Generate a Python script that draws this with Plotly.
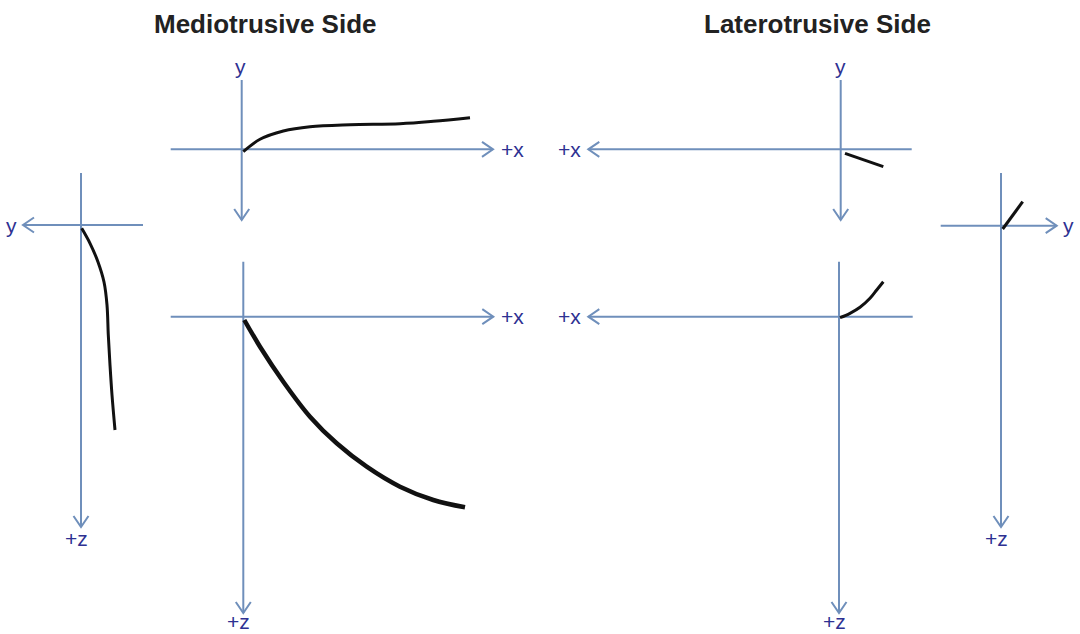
import plotly.graph_objects as go

# ---------------- data (page coordinates, px; y grows downward) ----------------
titles = ["Mediotrusive Side", "Laterotrusive Side"]
title_x = [265, 817]

# each axis: start point, arrow tip point, label text
axes_segments = [
    # top-left panel
    ((241.7, 80), (241.7, 220), None),
    ((170.7, 149.3), (493, 149.3), "+x"),
    # left side panel
    ((81, 173), (81, 527), "+z"),
    ((143, 225), (23, 225), "y"),
    # top-right panel
    ((840.7, 80), (840.7, 220), None),
    ((911.7, 149.3), (588.3, 149.3), "+x"),
    # right side panel
    ((1001, 173), (1001, 527), "+z"),
    ((940.7, 225.7), (1056.7, 225.7), "y"),
    # bottom-left panel
    ((243.3, 261.7), (243.3, 613), "+z"),
    ((170.7, 316.7), (493.3, 316.7), "+x"),
    # bottom-right panel
    ((839, 261.7), (839, 613), "+z"),
    ((912.7, 316.7), (588.3, 316.7), "+x"),
]
top_y_labels = [(240.7, 66), (840.5, 66)]

curve_tl_x = [243.3, 260, 283.3, 310, 350, 400, 433.3, 470]
curve_tl_y = [151.7, 139.3, 131, 126.7, 124.7, 123.7, 121.3, 117.7]
curve_ls_x = [81.7, 90, 98, 104, 107, 108.3, 110, 112, 115]
curve_ls_y = [228.3, 243.3, 262, 282, 305, 335, 365, 395, 430]
curve_tr_x = [845, 883.3]
curve_tr_y = [153.3, 166.7]
curve_rs_x = [1002.7, 1022.7]
curve_rs_y = [229, 201.7]
curve_bl_x = [244.3, 260, 283.3, 310, 336.7, 366.7, 400, 433.3, 465]
curve_bl_y = [320, 346.7, 381.7, 416.7, 443.3, 466.7, 486.7, 500, 507.3]
curve_br_x = [840, 850, 860, 870, 876.7, 883.3]
curve_br_y = [317.7, 313.3, 307.3, 298.3, 290, 281.7]

# ---------------- styles ----------------
AXIS_COLOR = "#6f8fbb"
LABEL_COLOR = "#2e3192"
LABEL_FONT = dict(family="Liberation Sans, Arial, sans-serif", size=21, color=LABEL_COLOR)
PAGE_H = 634

fig = go.Figure()

def add_line(xs, ys, color, width, shape="linear"):
    fig.add_trace(go.Scatter(x=xs, y=ys, mode="lines", line=dict(color=color, width=width, shape=shape),
                             hoverinfo="skip", showlegend=False))

for (x0, y0), (x1, y1), lab in axes_segments:
    add_line([x0, x1], [y0, y1], AXIS_COLOR, 2)
    # chevron arrow head
    dx, dy = x1 - x0, y1 - y0
    L = (dx * dx + dy * dy) ** 0.5
    ux, uy = dx / L, dy / L
    px, py = -uy, ux
    back, half = 11, 7.5
    add_line([x1 - ux * back + px * half, x1, x1 - ux * back - px * half],
             [y1 - uy * back + py * half, y1, y1 - uy * back - py * half], AXIS_COLOR, 2)
    if lab:
        if abs(dx) > abs(dy):
            off = 19 if lab == "+x" else 12
            fig.add_annotation(x=x1 + ux * off, y=y1, text=lab, showarrow=False, font=LABEL_FONT,
                               xanchor="center", yanchor="middle")
        else:
            ly = y1 + 11
            if ly + 14 > PAGE_H:
                fig.add_annotation(x=x1 - 5, y=PAGE_H, text=lab, showarrow=False, font=LABEL_FONT,
                                   xanchor="center", yanchor="bottom", borderpad=0)
            else:
                fig.add_annotation(x=x1 - 5, y=ly, text=lab, showarrow=False, font=LABEL_FONT,
                                   xanchor="center", yanchor="middle")

for lx, ly in top_y_labels:
    fig.add_annotation(x=lx, y=ly, text="y", showarrow=False, font=LABEL_FONT,
                       xanchor="center", yanchor="middle")

add_line(curve_tl_x, curve_tl_y, "#111111", 3, "spline")
add_line(curve_ls_x, curve_ls_y, "#111111", 3, "spline")
add_line(curve_tr_x, curve_tr_y, "#111111", 3)
add_line(curve_rs_x, curve_rs_y, "#111111", 3)
add_line(curve_bl_x, curve_bl_y, "#111111", 4.5, "spline")
add_line(curve_br_x, curve_br_y, "#111111", 3, "spline")

for t, tx in zip(titles, title_x):
    fig.add_annotation(x=tx, y=24, text="<b>" + t + "</b>", showarrow=False,
                       font=dict(family="Liberation Sans, Arial, sans-serif", size=26, color="#222222"),
                       xanchor="center", yanchor="middle")

fig.update_layout(
    width=1080, height=PAGE_H, margin=dict(l=0, r=0, t=0, b=0),
    paper_bgcolor="white", plot_bgcolor="white",
    xaxis=dict(range=[0, 1080], visible=False, fixedrange=True),
    yaxis=dict(range=[PAGE_H, 0], visible=False, fixedrange=True),
)

fig.write_html("out.html", config={"displayModeBar": False},
               post_script="document.body.style.margin='0';")
